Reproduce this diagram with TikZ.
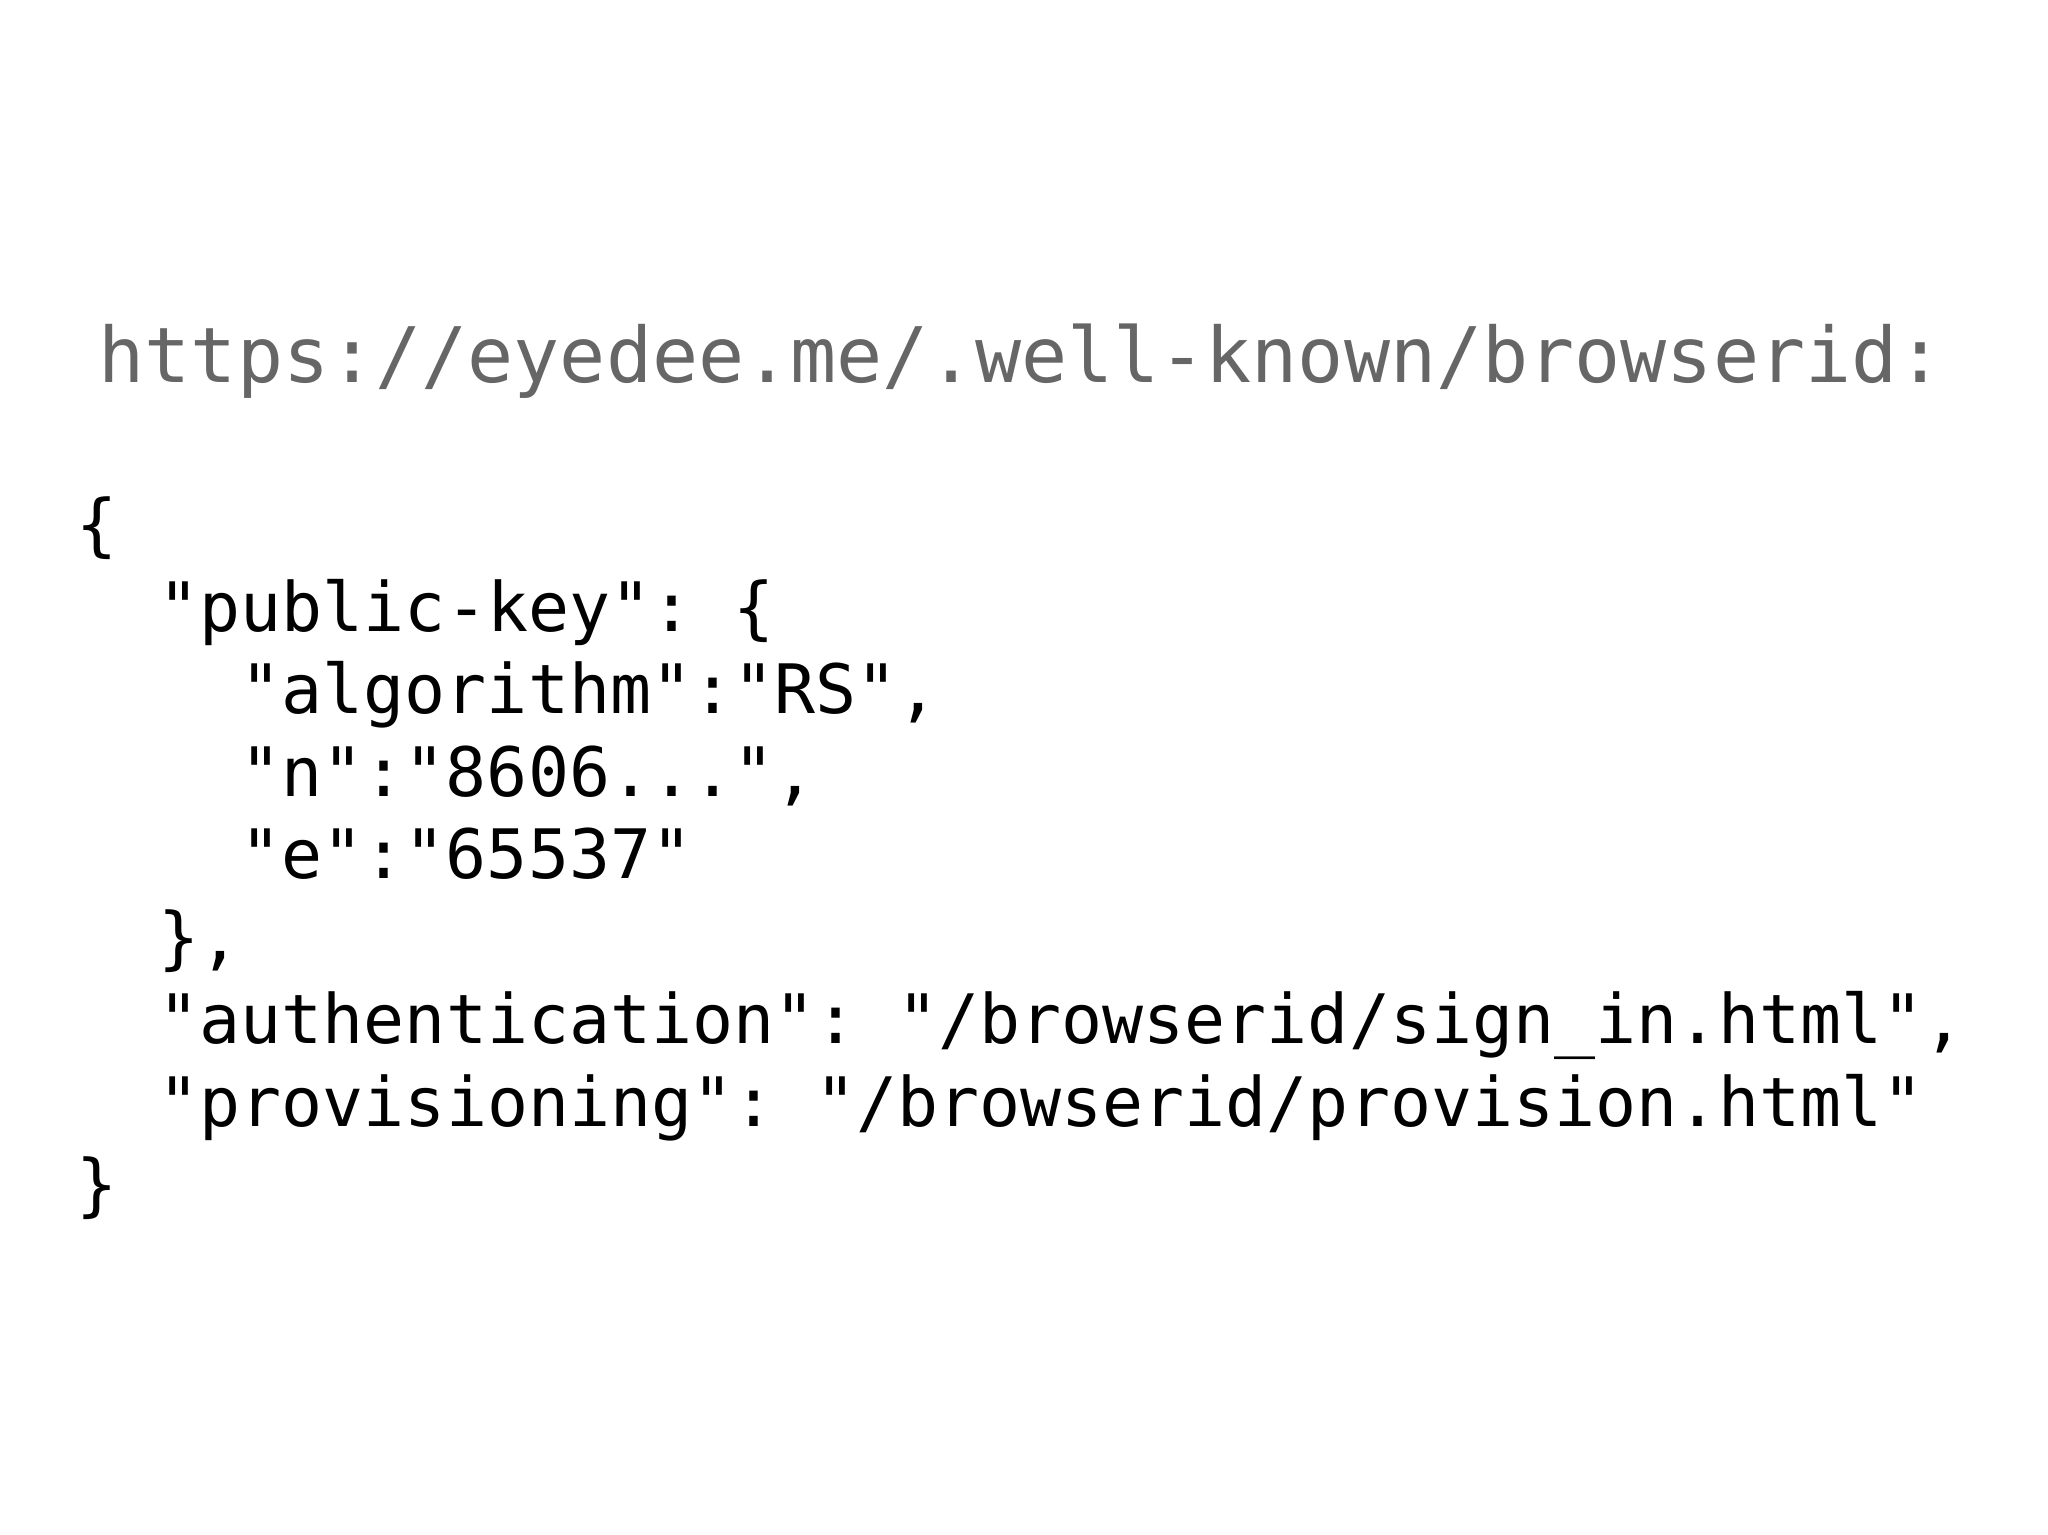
\documentclass[tikz,border=0pt]{standalone}
\usepackage{fontspec}
\setmonofont{DejaVu Sans Mono}
\definecolor{titlegray}{HTML}{666666}
\begin{document}
\begin{tikzpicture}[x=1cm,y=1cm,
  code/.style={anchor=base west,inner sep=0pt,font=\fontsize{19.4pt}{23pt}\selectfont\ttfamily,text=black},
  ttl/.style={anchor=base west,inner sep=0pt,font=\fontsize{21.8pt}{26pt}\selectfont\ttfamily,text=titlegray}]
\useasboundingbox (0,0) rectangle (20.48,-15.35);
\node[ttl] (title) at (0.98,-3.82) {https://eyedee.me/.well-known/browserid:};
\def\cx#1{0.76+#1*0.41}
\node[code] (l1) at ({\cx{0}},-5.485) {\{};
\node[code] (l2) at ({\cx{2}},-6.31) {"public-key": \{};
\node[code] (l3) at ({\cx{4}},-7.135) {"algorithm":"RS",};
\node[code] (l4) at ({\cx{4}},-7.96) {"n":"8606...",};
\node[code] (l5) at ({\cx{4}},-8.785) {"e":"65537"};
\node[code] (l6) at ({\cx{2}},-9.61) {\},};
\node[code] (l7) at ({\cx{2}},-10.435) {"authentication": "/browserid/sign\_in.html",};
\node[code] (l8) at ({\cx{2}},-11.26) {"provisioning": "/browserid/provision.html"};
\node[code] (l9) at ({\cx{0}},-12.085) {\}};
\end{tikzpicture}
\end{document}
